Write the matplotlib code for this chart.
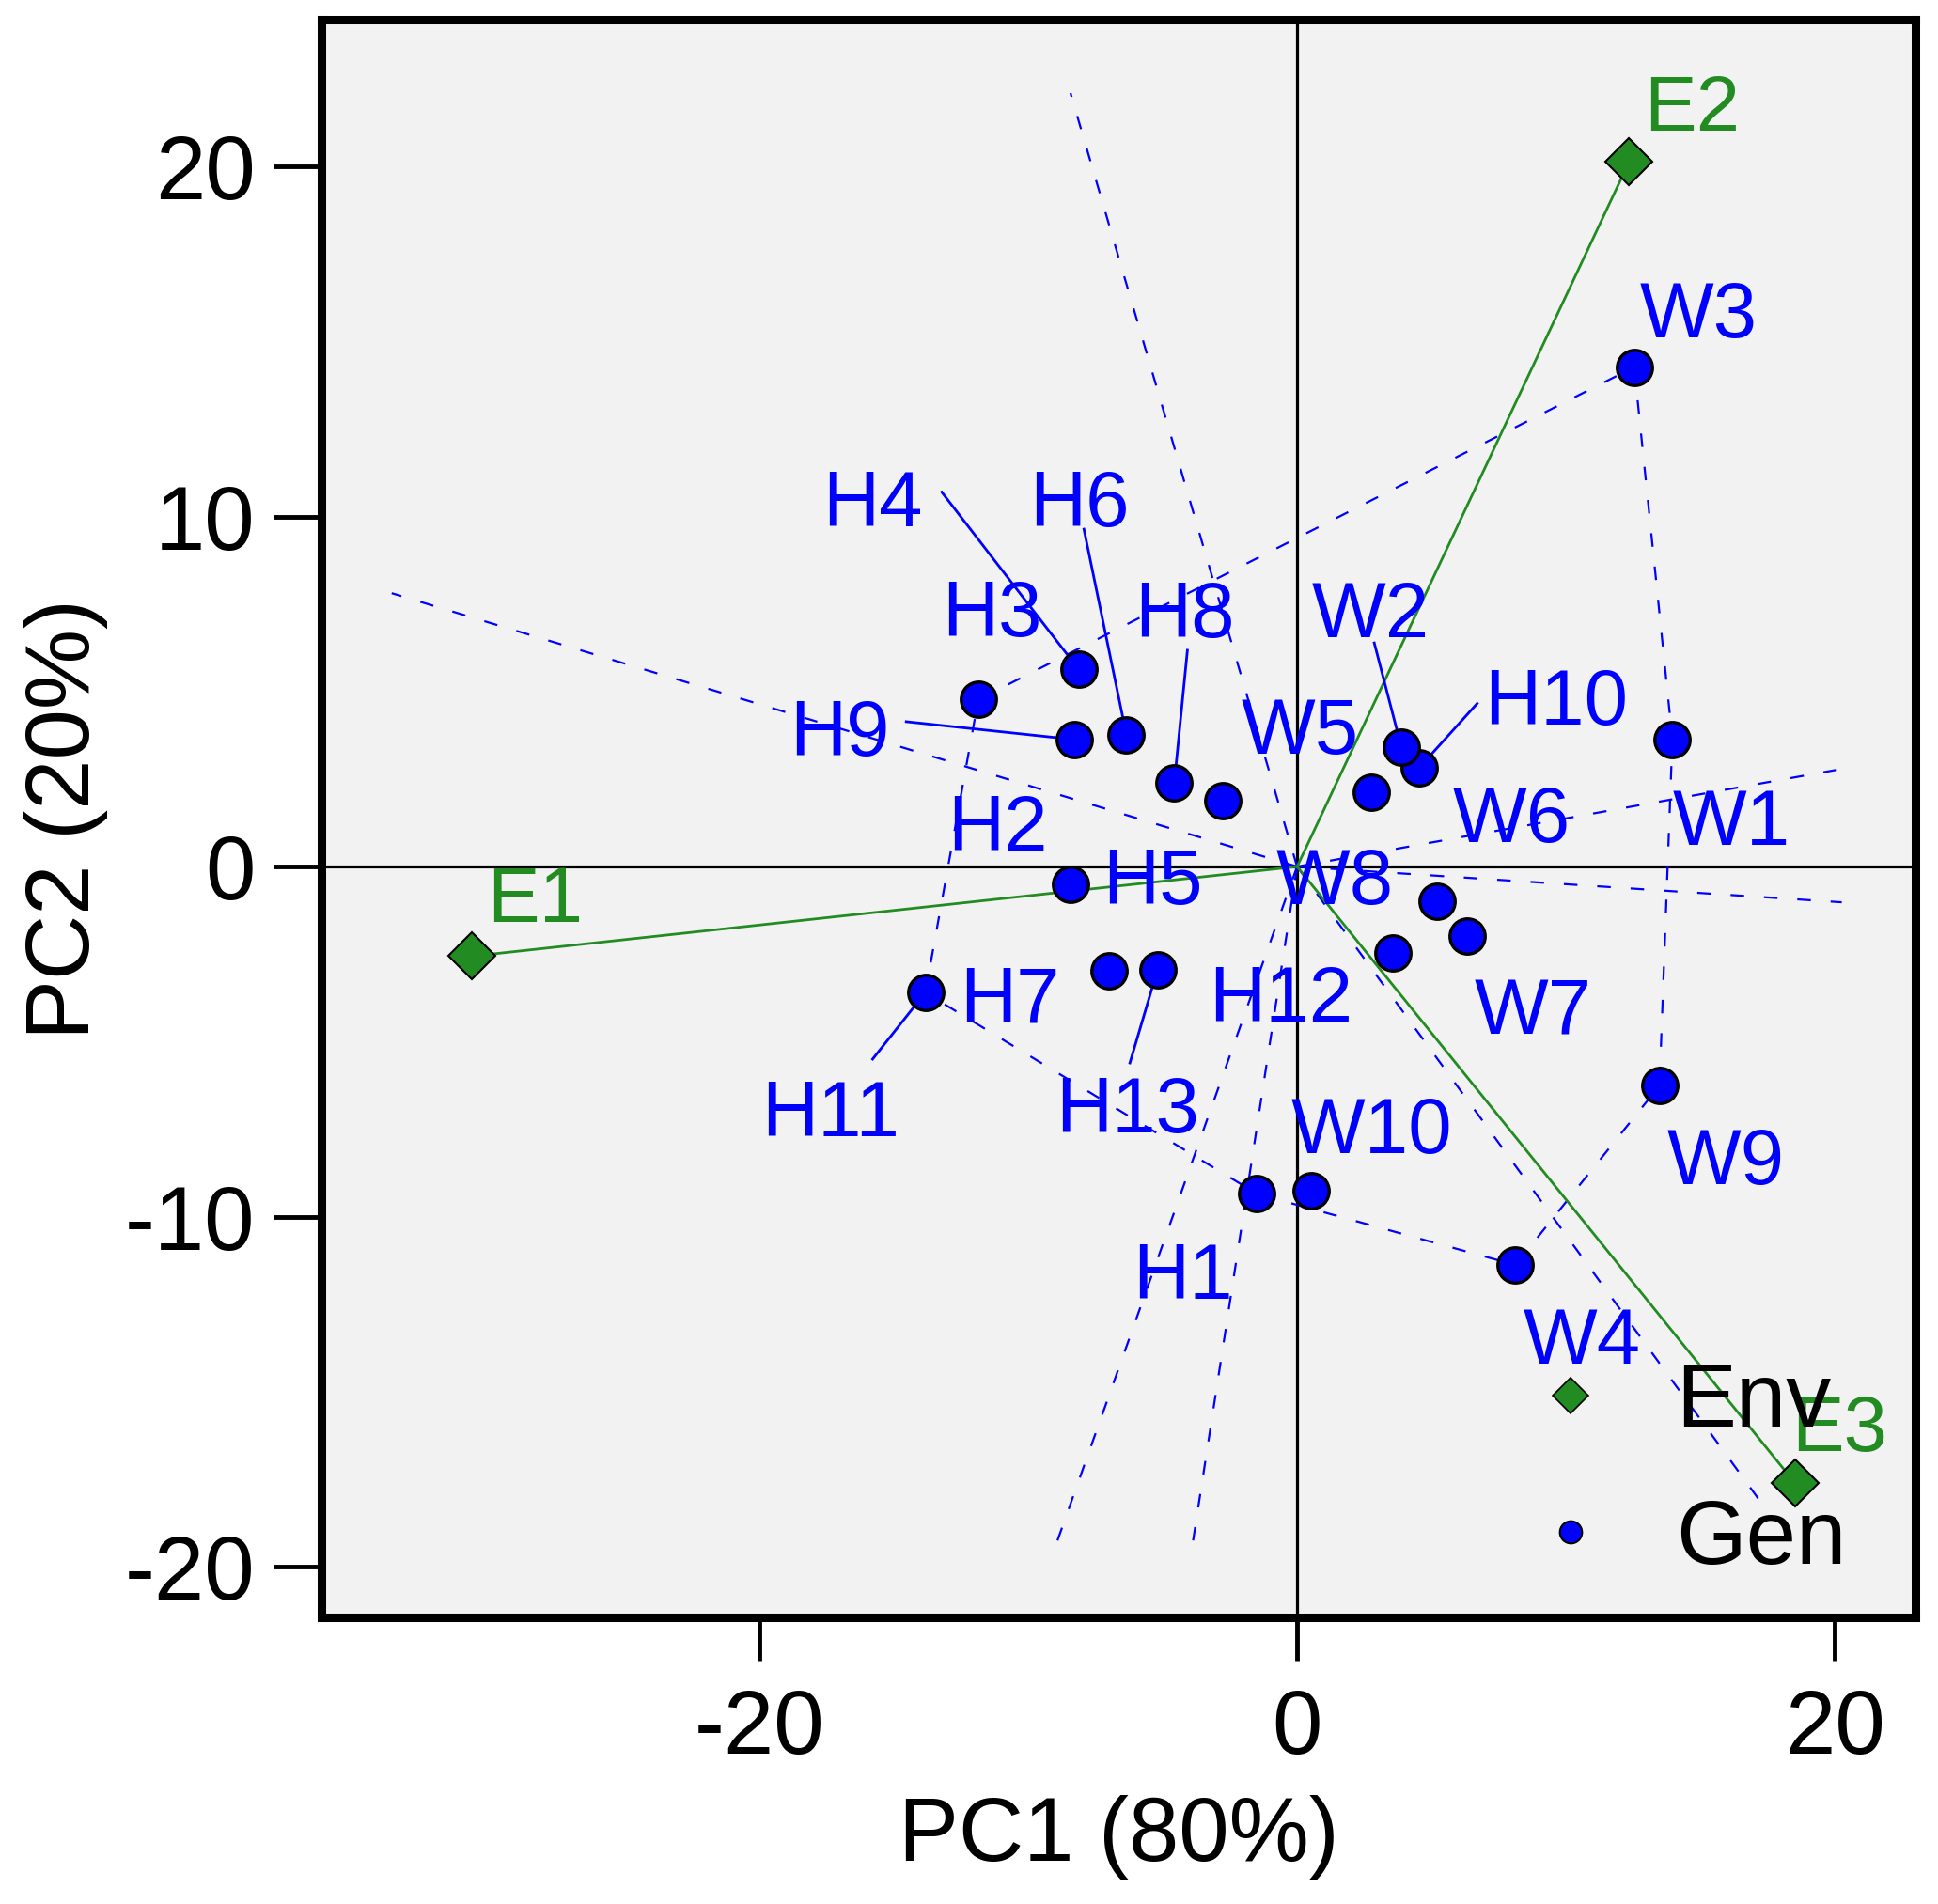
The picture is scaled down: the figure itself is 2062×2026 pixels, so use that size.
import numpy as np
import matplotlib
matplotlib.use('Agg')
import matplotlib.pyplot as plt
from matplotlib.lines import Line2D

plt.rcParams['font.family'] = ['Liberation Sans', 'DejaVu Sans']
plt.rcParams['axes.unicode_minus'] = False

# genotype scores (PC1, PC2)
gen_names = ['H1', 'H2', 'H3', 'H4', 'H5', 'H6', 'H7', 'H8', 'H9', 'H10', 'H11', 'H12', 'H13',
             'W1', 'W2', 'W3', 'W4', 'W5', 'W6', 'W7', 'W9', 'W10']
gen_x = [-1.49, -2.76, -11.86, -8.12, -8.44, -6.35, -6.99, -4.57, -8.30, 4.55, -13.83, 3.58, -5.19,
         13.96, 3.88, 12.54, 8.12, 2.76, 5.19, 6.33, 13.48, 0.53]
gen_y = [-9.35, 1.89, 4.77, 5.63, -0.50, 3.77, -2.98, 2.38, 3.63, 2.83, -3.60, -2.48, -2.94,
         3.64, 3.41, 14.27, -11.38, 2.13, -0.98, -1.98, -6.26, -9.25]

# genotype label positions
lab_names = ['H1', 'H2', 'H3', 'H4', 'H5', 'H6', 'H7', 'H8', 'H9', 'H10', 'H11', 'H12', 'H13',
             'W1', 'W2', 'W3', 'W4', 'W5', 'W6', 'W7', 'W8', 'W9', 'W10']
lab_x = [-4.25, -11.15, -11.35, -15.79, -5.36, -8.11, -10.70, -4.20, -17.03, 9.65, -17.37, -0.62, -6.32,
         16.15, 2.74, 14.92, 10.58, 0.10, 7.97, 8.77, 1.40, 15.94, 2.78]
lab_y = [-11.54, 1.27, 7.39, 10.54, -0.24, 10.54, -3.61, 7.38, 3.99, 4.87, -6.87, -3.62, -6.77,
         1.45, 7.38, 15.93, -13.37, 4.03, 1.53, -3.97, -0.24, -8.25, -7.37]

# leader lines: label side start -> genotype
lead_names = ['H4', 'H6', 'H8', 'H9', 'H10', 'W2', 'H11', 'H13']
lead_x0 = [-13.22, -7.93, -4.08, -14.54, 6.70, 2.87, -15.79, -6.22]
lead_y0 = [10.70, 9.64, 6.18, 4.14, 4.66, 6.39, -5.50, -5.61]

# environment scores
env_names = ['E1', 'E2', 'E3']
env_x = [-30.69, 12.35, 18.52]
env_y = [-2.56, 20.13, -17.61]
env_lab_x = [-28.35, 14.69, 20.17]
env_lab_y = [-0.76, 21.83, -15.87]

# polygon vertices (which-won-where) and perpendicular rays from the origin
hull_names = ['W3', 'W1', 'W9', 'W4', 'H1', 'H11', 'H3']
ray_x = [20.26, 20.26, 17.34, -3.88, -8.94, -33.68, -8.43]
ray_y = [2.79, -1.02, -18.25, -19.31, -19.31, 7.81, 22.10]

blue = '#0000FF'
green = '#228B22'

fig = plt.figure(figsize=(20.62, 20.26), dpi=100)
ax = fig.add_axes([0.1659, 0.1505, 0.8223, 0.8391])
ax.set_facecolor('#F2F2F2')
ax.set_xlim(-36.29, 22.99)
ax.set_ylim(-21.45, 24.19)

ax.axhline(0, color='black', lw=2.3, zorder=1)
ax.axvline(0, color='black', lw=2.3, zorder=1)

pos = {n: (x, y) for n, x, y in zip(gen_names, gen_x, gen_y)}
hx = [pos[n][0] for n in hull_names] + [pos[hull_names[0]][0]]
hy = [pos[n][1] for n in hull_names] + [pos[hull_names[0]][1]]
ax.plot(hx, hy, color=blue, lw=1.6, ls=(0, (6.5, 9.5)), zorder=2)
for rx, ry in zip(ray_x, ray_y):
    ax.plot([0, rx], [0, ry], color=blue, lw=1.6, ls=(0, (6.5, 9.5)), zorder=2)

for ex, ey in zip(env_x, env_y):
    ax.plot([0, ex], [0, ey], color=green, lw=2.0, zorder=3)

for n, x0, y0 in zip(lead_names, lead_x0, lead_y0):
    ax.plot([x0, pos[n][0]], [y0, pos[n][1]], color=blue, lw=2.0, zorder=3)

ax.plot(gen_x, gen_y, ls='none', marker='o', ms=27, mfc=blue, mec='black', mew=2.4, zorder=4)
ax.plot(env_x, env_y, ls='none', marker='D', ms=25, mfc=green, mec='black', mew=1.5, zorder=4)

for n, x, y in zip(lab_names, lab_x, lab_y):
    ax.text(x, y, n, color=blue, fontsize=60, ha='center', va='center_baseline', zorder=5)
for n, x, y in zip(env_names, env_lab_x, env_lab_y):
    ax.text(x, y, n, color=green, fontsize=60, ha='center', va='center_baseline', zorder=5)

ax.set_xticks([-20, 0, 20])
ax.set_yticks([-20, -10, 0, 10, 20])
ax.tick_params(axis='x', direction='out', length=33, width=3.5, pad=21, labelsize=69)
ax.tick_params(axis='y', direction='out', length=36.5, width=3.5, pad=14.4, labelsize=69)
for sp in ax.spines.values():
    sp.set_linewidth(6.5)

ax.set_xlabel('PC1 (80%)', fontsize=69)
ax.set_ylabel('PC2 (20%)', fontsize=69)
ax.xaxis.set_label_coords(0.5, -0.111)
ax.yaxis.set_label_coords(-0.134, 0.5)

handles = [Line2D([], [], ls='none', marker='D', ms=19, mfc=green, mec='black', mew=1.2),
           Line2D([], [], ls='none', marker='o', ms=17, mfc=blue, mec='black', mew=1.5)]
ax.legend(handles, ['Env', 'Gen'], loc='lower left', bbox_to_anchor=(0.7555, 0.0218),
          frameon=False, fontsize=69, handlelength=1.0, handletextpad=0.67,
          labelspacing=0.58, borderpad=0, borderaxespad=0)

fig.savefig('out.png', dpi=100)
